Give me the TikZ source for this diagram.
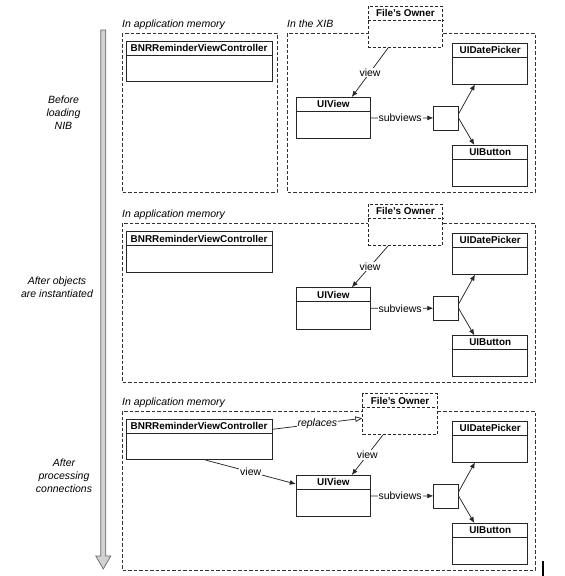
\documentclass[tikz,border=0pt]{standalone}
\usepackage{fontspec}
\setmainfont{Liberation Sans}
\usepackage{tikz}
\usetikzlibrary{arrows.meta, calc}

\tikzset{
	objbox/.style={draw=black!85, line width=0.8pt, fill=white, inner sep=0pt},
	ownerbox/.style={objbox, dash pattern=on 3pt off 2pt},
	zone/.style={draw=black!80, line width=0.8pt, dash pattern=on 3.5pt off 2pt},
	boxtitle/.style={font=\fontsize{9.9}{11}\selectfont\bfseries, inner sep=0pt},
	zonelabel/.style={font=\fontsize{10.5}{12}\selectfont\itshape, anchor=base west, inner sep=0pt},
	linklabel/.style={font=\fontsize{10.5}{12}\selectfont, fill=white, inner sep=1pt},
	replacelabel/.style={linklabel, font=\fontsize{10.5}{12}\selectfont\itshape},
	steplabel/.style={font=\fontsize{10.5}{13}\selectfont\itshape, align=center, inner sep=0pt},
	link/.style={draw=black!85, line width=0.75pt, -{Latex[length=6pt, width=5pt]}},
}

\newcommand{\ObjBox}[7][objbox]{
	\node[#1, minimum width=#5, minimum height=#6, anchor=north west] (#2) at (#3,#4) {};
	\node[boxtitle] (#2-title) at ($(#2.north)+(0,7.25)$) {#7};
	\draw[#1] ($(#2.north west)+(0,14.5)$) -- ($(#2.north east)+(0,14.5)$);
}

\newcommand{\NibObjects}[4]{
	\def\pn{#1}
	\def\ptop{#2}
	\def\ox{#3}
	\def\oy{#4}
	\ObjBox[ownerbox]{owner\pn}{\ox}{\oy}{74.6}{41}{File's Owner}
	\ObjBox{view\pn}{295.8}{\ptop+64}{74.3}{41.3}{UIView}
	\ObjBox{picker\pn}{452.3}{\ptop+9.5}{75}{41}{UIDatePicker}
	\ObjBox{button\pn}{452.3}{\ptop+112}{75}{41}{UIButton}
	\node[objbox, minimum width=24.4, minimum height=24, anchor=north west] (sub\pn) at (433.3,\ptop+72.5) {};
	\draw[link] ($(owner\pn.south west)+(20.5,0)$) -- ($(view\pn.north west)+(56,0)$) node[linklabel, midway] {view};
	\draw[link] (view\pn.east) -- (sub\pn.west) node[linklabel, midway, xshift=-2pt] {subviews};
	\draw[link] ($(sub\pn.east)+(0,-4)$) -- ($(picker\pn.south west)+(22.7,0)$);
	\draw[link] (sub\pn.east) -- ($(button\pn.north west)+(22,0)$);
}

\begin{document}
\begin{tikzpicture}[x=1pt, y=-1pt, line cap=butt]
	\useasboundingbox (0,0) rectangle (565,576);

	% time line
	\filldraw[fill=black!18, draw=black!60, line width=0.7pt] (100.8,30) -- (105.8,30) -- (105.8,556) -- (110.8,556) -- (103.3,569) -- (95.8,556) -- (100.8,556) -- cycle;

	\node[steplabel] (step1) at (63.5,113) {Before\\loading\\NIB};
	\node[steplabel] (step2) at (57,287) {After objects\\are instantiated};
	\node[steplabel] (step3) at (64,476) {After\\processing\\connections};

	% before loading
	\draw[zone] (122,33) rectangle (277,192);
	\draw[zone] (287,33) rectangle (535,192);
	\node[zonelabel] (mem1) at (122,27.5) {In application memory};
	\node[zonelabel] (xib1) at (287,27.5) {In the XIB};
	\ObjBox{ctrl1}{125.7}{40.5}{146}{40.6}{BNRReminderViewController}
	\NibObjects{1}{33}{367.7}{6}

	% after instantiation
	\draw[zone] (122,223.3) rectangle (535,382.3);
	\node[zonelabel] (mem2) at (122,217.8) {In application memory};
	\ObjBox{ctrl2}{125.7}{231.3}{146}{40.6}{BNRReminderViewController}
	\NibObjects{2}{223.3}{367.7}{204}

	% after connections
	\draw[zone] (122,411) rectangle (535,570);
	\node[zonelabel] (mem3) at (122,405.5) {In application memory};
	\ObjBox{ctrl3}{125.7}{418.7}{146}{40.6}{BNRReminderViewController}
	\NibObjects{3}{411}{362.3}{393.3}
	\draw[link] ($(ctrl3.south west)+(80,0)$) -- ($(view3.north west)+(0,9)$) node[linklabel, midway] {view};
	\draw[draw=black!85, line width=0.75pt, -{Triangle[open, length=7pt, width=5.5pt]}] ($(ctrl3.north east)+(0,10.6)$) -- ($(owner3.north west)+(0,25)$) node[replacelabel, midway] {replaces};

	\draw[line width=2pt] (543,561) -- (543,576);
\end{tikzpicture}
\end{document}
